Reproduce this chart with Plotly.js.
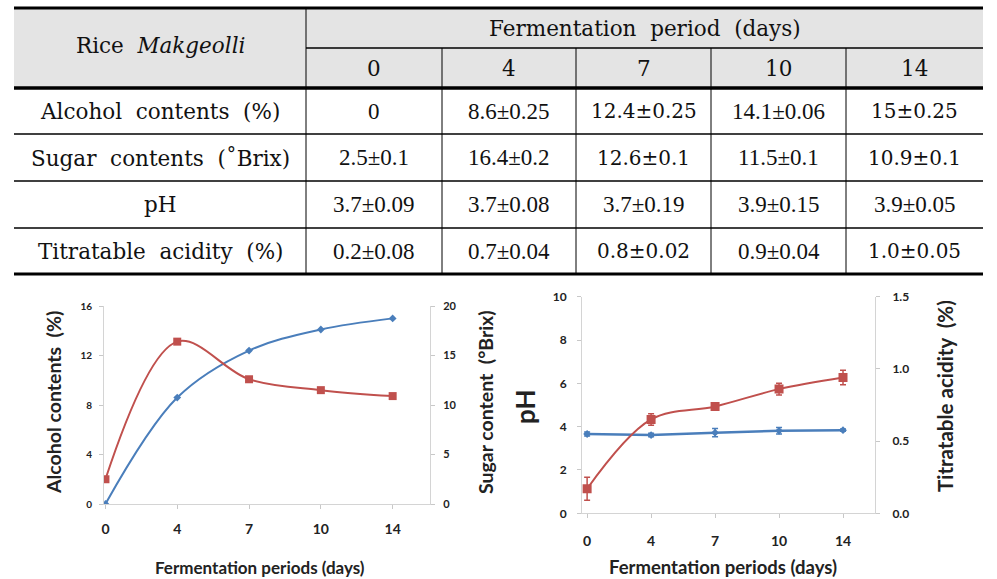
<!DOCTYPE html>
<html><head><meta charset="utf-8">
<script src="https://cdn.plot.ly/plotly-3.0.1.min.js"></script>
<style>html,body{margin:0;padding:0;background:#fff}#chart{width:997px;height:579px}</style>
</head><body><div id="chart"></div>
<script>
// ---------- data ----------
const days = ['0', '4', '7', '10', '14'];
const tableCorner = 'Rice <i>Makgeolli</i>';
const tableHeader = 'Fermentation period (days)';
const rowLabels = ['Alcohol contents (%)', 'Sugar contents (˚Brix)', 'pH', 'Titratable acidity (%)'];
const alcoholCells = ['0', '8.6±0.25', '12.4±0.25', '14.1±0.06', '15±0.25'];
const sugarCells = ['2.5±0.1', '16.4±0.2', '12.6±0.1', '11.5±0.1', '10.9±0.1'];
const phCells = ['3.7±0.09', '3.7±0.08', '3.7±0.19', '3.9±0.15', '3.9±0.05'];
const acidityCells = ['0.2±0.08', '0.7±0.04', '0.8±0.02', '0.9±0.04', '1.0±0.05'];

// chart series
const alcohol = [0, 8.6, 12.4, 14.1, 15];
const sugar = [2.5, 16.4, 12.6, 11.5, 10.9];
const phValues = [3.66, 3.61, 3.72, 3.81, 3.84];
const phSd = [0.09, 0.08, 0.19, 0.15, 0.05];
const acidity = [0.17, 0.65, 0.74, 0.86, 0.94];
const aciditySd = [0.08, 0.04, 0.02, 0.04, 0.05];

// ---------- layout helpers ----------
const W = 997, H = 579;
const px = x => x / W;
const py = y => 1 - y / H;
const BLUE = '#4a7ebb', RED = '#c0504d';

// table geometry (pixels)
const colEdges = [14, 306, 442, 576, 711, 846, 983];
const rowEdges = [8, 48, 88, 134, 181, 228, 274];
const tableRows = [alcoholCells, sugarCells, phCells, acidityCells];
// cells typeset in the heavier face in the original
const heavyCells = new Set(['0,2', '0,4', '1,2', '1,4', '3,2', '3,4']);
// wider word spacing, as in the original typesetting
const spaced = s => s.replace(/ /g, '\u00a0 ');

const shapes = [];
const annotations = [];
const line = (x0, y0, x1, y1, w) => shapes.push({type: 'line', xref: 'paper', yref: 'paper',
  x0: px(x0), y0: py(y0), x1: px(x1), y1: py(y1), line: {color: '#000', width: w}});

shapes.push({type: 'rect', xref: 'paper', yref: 'paper', layer: 'below',
  x0: px(colEdges[0]), x1: px(colEdges[6]), y0: py(rowEdges[0] + 1), y1: py(rowEdges[2]),
  fillcolor: '#e4e4e4', line: {width: 0}});
line(colEdges[0], rowEdges[0], colEdges[6], rowEdges[0], 3);
line(colEdges[1], rowEdges[1], colEdges[6], rowEdges[1], 1.5);
line(colEdges[0], rowEdges[2], colEdges[6], rowEdges[2], 3.5);
for (let r = 3; r < 6; r++) line(colEdges[0], rowEdges[r], colEdges[6], rowEdges[r], 1.5);
line(colEdges[0], rowEdges[6], colEdges[6], rowEdges[6], 3);
line(colEdges[1], rowEdges[0] + 1, colEdges[1], rowEdges[6], 1);
for (let c = 2; c < 6; c++) line(colEdges[c], rowEdges[1], colEdges[c], rowEdges[6], 1);

const labelFont = {family: 'DejaVu Serif', size: 21.5, color: '#111'};
const numFont = {family: 'Liberation Serif', size: 23, color: '#111'};
const heavyFont = {family: 'DejaVu Serif', size: 20, color: '#111'};
const txt = (text, x, y, font, extra) => annotations.push(Object.assign({text, x: px(x), y: py(y),
  xref: 'paper', yref: 'paper', showarrow: false, xanchor: 'center', yanchor: 'middle', font}, extra || {}));

txt(spaced(tableCorner.replace('<i>', '').replace('</i>', '')).replace('Makgeolli', '<i>Makgeolli</i>'),
  (colEdges[0] + colEdges[1]) / 2, 45, labelFont);
txt(spaced(tableHeader), (colEdges[1] + colEdges[6]) / 2, 29, labelFont);
days.forEach((d, c) => txt(d, (colEdges[c + 1] + colEdges[c + 2]) / 2, 68, labelFont));
rowLabels.forEach((lab, r) => {
  const yc = (rowEdges[r + 2] + rowEdges[r + 3]) / 2;
  txt(spaced(lab), (colEdges[0] + colEdges[1]) / 2, yc, labelFont);
  tableRows[r].forEach((v, c) => txt(v, (colEdges[c + 1] + colEdges[c + 2]) / 2, yc,
    heavyCells.has(r + ',' + c) ? heavyFont : numFont));
});

// chart axis titles
const tFont = (s) => ({family: 'Lato', size: s, color: '#222', weight: 700});
txt('Alcohol contents  (%)', 53, 403, tFont(19.5), {textangle: -90});
txt('Sugar content  (°Brix)', 485, 402, tFont(19.5), {textangle: -90});
txt('Fermentation periods (days)', 260, 567, tFont(17));
txt('pH', 525, 407, tFont(26), {textangle: -90});
txt('Titratable acidity  (%)', 945, 396, tFont(20.5), {textangle: -90});
txt('Fermentation periods (days)', 723, 567, tFont(18.5));

// ---------- traces ----------
const traces = [
  {x: days, y: alcohol, xaxis: 'x', yaxis: 'y', mode: 'lines+markers',
   line: {color: BLUE, width: 2, shape: 'spline'}, marker: {symbol: 'diamond', size: 6, color: BLUE}},
  {x: days, y: sugar, xaxis: 'x', yaxis: 'y2', mode: 'lines+markers',
   line: {color: RED, width: 2, shape: 'spline'}, marker: {symbol: 'square', size: 8, color: RED}},
  {x: days, y: phValues, xaxis: 'x2', yaxis: 'y3', mode: 'lines+markers',
   error_y: {type: 'data', array: phSd, visible: true, color: BLUE, thickness: 1.5, width: 3},
   line: {color: BLUE, width: 2.5}, marker: {symbol: 'diamond', size: 6, color: BLUE}},
  {x: days, y: acidity, xaxis: 'x2', yaxis: 'y4', mode: 'lines+markers',
   error_y: {type: 'data', array: aciditySd, visible: true, color: RED, thickness: 1.5, width: 3},
   line: {color: RED, width: 2, shape: 'spline'}, marker: {symbol: 'square', size: 9, color: RED}}
];

const axBase = {showgrid: false, zeroline: false, showline: true, linecolor: '#d4d4d4', linewidth: 1,
  ticks: 'outside', ticklen: 4, tickcolor: '#c8c8c8', fixedrange: true};
const tickF = (s) => ({family: 'Lato', size: s, color: '#222', weight: 700});

const layout = {
  width: W, height: H, margin: {l: 0, r: 0, t: 0, b: 0},
  paper_bgcolor: '#fff', plot_bgcolor: 'rgba(0,0,0,0)', showlegend: false,
  xaxis: Object.assign({}, axBase, {domain: [px(104), px(430)], anchor: 'y', type: 'category',
    range: [-0.02, 4.52], tickfont: tickF(14), ticklabelstandoff: 8}),
  yaxis: Object.assign({}, axBase, {domain: [py(504), py(306)], anchor: 'x', range: [0, 16], dtick: 4,
    tickfont: tickF(10), ticklabelstandoff: 5}),
  yaxis2: Object.assign({}, axBase, {overlaying: 'y', side: 'right', anchor: 'x', range: [0, 20], dtick: 5,
    tickfont: tickF(11), ticklabelstandoff: 6}),
  xaxis2: Object.assign({}, axBase, {domain: [px(582), px(875)], anchor: 'y3', type: 'category',
    range: [-0.08, 4.5], tickfont: tickF(14), ticklabelstandoff: 11}),
  yaxis3: Object.assign({}, axBase, {domain: [py(513.3), py(296.7)], anchor: 'x2', range: [0, 10], dtick: 2,
    tickfont: tickF(12), ticklabelstandoff: 8}),
  yaxis4: Object.assign({}, axBase, {overlaying: 'y3', side: 'right', anchor: 'x2', range: [0, 1.5], dtick: 0.5,
    tickformat: '.1f', tickfont: tickF(12), ticklabelstandoff: 10}),
  shapes, annotations
};

Plotly.newPlot('chart', traces, layout, {staticPlot: true, displayModeBar: false});
</script></body></html>
